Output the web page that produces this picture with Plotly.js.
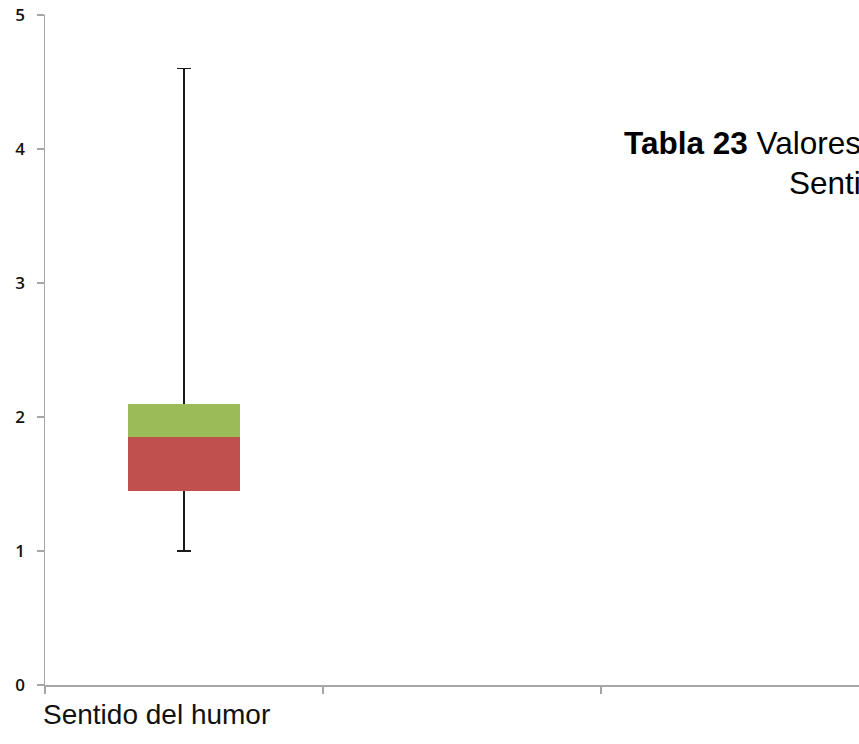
<!DOCTYPE html>
<html>
<head>
<meta charset="utf-8">
<script src="https://cdn.plot.ly/plotly-3.0.1.min.js"></script>
<style>html,body{margin:0;padding:0;background:#fff;}#chart{width:859px;height:744px;}</style>
</head>
<body>
<div id="chart"></div>
<script>
// Data
var categories = ["Sentido del humor"];
var catPos = [0.5];
var whiskerLow = [1.0];
var q1 = [1.45];
var median = [1.85];
var q3 = [2.1];
var whiskerHigh = [4.6];
var yTickVals = [0, 1, 2, 3, 4, 5];
var titleBold = "Tabla 23";
var titleLine1 = "Valores";
var titleLine2 = "Sentido del humor";

var lowerBox = q1.map(function(v, i){ return median[i] - v; });
var upperBox = median.map(function(v, i){ return q3[i] - v; });
var errUp = whiskerLow.map(function(v, i){ return whiskerHigh[i] - v; });

var traces = [
  {
    type: 'bar', x: catPos, y: whiskerLow, width: 0.4,
    marker: {color: 'rgba(0,0,0,0)'},
    error_y: {type: 'data', symmetric: false, array: errUp, arrayminus: whiskerLow.map(function(){return 0;}),
              color: '#1a1a1a', thickness: 1.6, width: 7},
    hoverinfo: 'skip', showlegend: false
  },
  {
    type: 'bar', x: catPos, base: q1, y: lowerBox, width: 0.4,
    marker: {color: '#C0504D', line: {width: 0}}, showlegend: false
  },
  {
    type: 'bar', x: catPos, base: median, y: upperBox, width: 0.4,
    marker: {color: '#9BBB59', line: {width: 0}}, showlegend: false
  }
];

var layout = {
  width: 859, height: 744,
  margin: {l: 45, r: 0, t: 15, b: 59},
  paper_bgcolor: '#ffffff', plot_bgcolor: '#ffffff',
  barmode: 'overlay', bargap: 0,
  showlegend: false,
  xaxis: {
    range: [0, 814/278], tickvals: [0, 1, 2], showticklabels: false,
    ticks: 'outside', ticklen: 7, tickwidth: 1.5, tickcolor: '#A6A6A6',
    showline: true, linecolor: '#A6A6A6', linewidth: 1.5,
    showgrid: false, zeroline: false, fixedrange: true
  },
  yaxis: {
    range: [0, 5], tickvals: yTickVals,
    ticks: 'outside', ticklen: 7, tickwidth: 1.5, tickcolor: '#A6A6A6',
    showline: true, linecolor: '#A6A6A6', linewidth: 1.5,
    showgrid: false, zeroline: false, ticklabelstandoff: 8,
    tickfont: {family: 'Open Sans, sans-serif', size: 17, color: '#111', weight: 600},
    fixedrange: true
  },
  annotations: [
    {
      xref: 'x', yref: 'paper', x: 0, y: 0, xanchor: 'left', yanchor: 'top',
      yshift: -12, xshift: -4,
      text: categories[0], showarrow: false,
      font: {family: 'Liberation Sans, Arial, sans-serif', size: 28, color: '#111'}
    },
    {
      xref: 'paper', yref: 'paper', x: (622-45)/814, y: (685-143)/670, xanchor: 'left', yanchor: 'middle',
      text: '<b>' + titleBold + '</b> ' + titleLine1, showarrow: false,
      font: {family: 'Liberation Sans, Arial, sans-serif', size: 31.5, color: '#000'}
    },
    {
      xref: 'paper', yref: 'paper', x: (787-45)/814, y: (685-183)/670, xanchor: 'left', yanchor: 'middle',
      text: titleLine2, showarrow: false,
      font: {family: 'Liberation Sans, Arial, sans-serif', size: 31.5, color: '#000'}
    }
  ]
};

Plotly.newPlot('chart', traces, layout, {displayModeBar: false, staticPlot: true});
</script>
</body>
</html>
